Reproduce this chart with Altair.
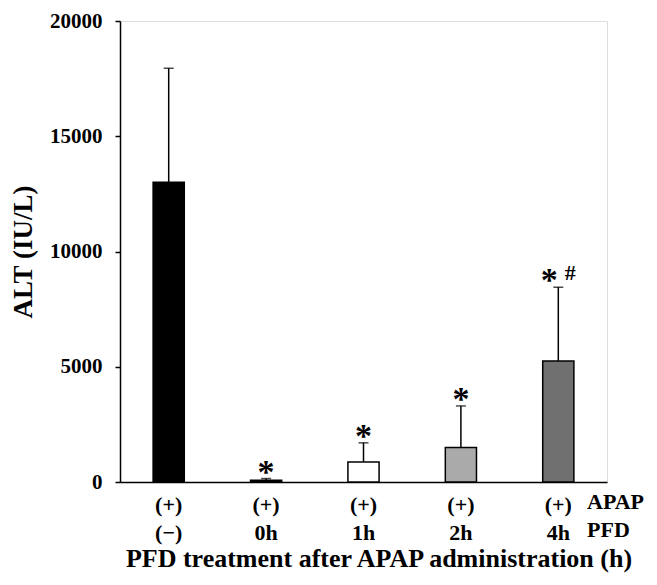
import altair as alt
import pandas as pd

groups = ["(−)", "0h", "1h", "2h", "4h"]
means = [13000, 80, 870, 1500, 5250]
sds = [4950, 70, 830, 1800, 3200]
stars = ["", "*", "*", "*", "*"]
hashes = ["", "", "", "", "#"]
fills = ["#000000", "#000000", "#ffffff", "#aaaaaa", "#707070"]

df = pd.DataFrame({
    "group": groups,
    "mean": means,
    "top": [m + s for m, s in zip(means, sds)],
    "star": stars,
    "hash": hashes,
    "fill": fills,
})

FONT = "Liberation Serif"

x = alt.X("group:N", sort=groups,
          scale=alt.Scale(paddingInner=0.68, paddingOuter=0.34),
          axis=alt.Axis(title=None, ticks=False, domainColor="black", domainWidth=1.5,
                        labelExpr="['(+)', datum.value]", labelAngle=0,
                        labelFont=FONT, labelFontWeight="bold", labelFontSize=22,
                        labelColor="black", labelLineHeight=28, labelPadding=12))
y = alt.Y("mean:Q", scale=alt.Scale(domain=[0, 20000], nice=False),
          axis=alt.Axis(title="ALT (IU/L)", values=[0, 5000, 10000, 15000, 20000],
                        format="d", grid=False, tickSize=5, tickColor="black",
                        tickWidth=1.5, domainColor="black", domainWidth=1.5,
                        labelFont=FONT, labelFontWeight="bold", labelFontSize=21,
                        labelColor="black", labelPadding=13,
                        titleFont=FONT, titleFontWeight="bold", titleFontSize=27,
                        titleColor="black", titlePadding=12))

base = alt.Chart(df)

err = base.mark_rule(color="black", strokeWidth=1.5).encode(
    x=x, y=alt.Y("mean:Q"), y2="top:Q")
cap = base.mark_tick(color="black", orient="horizontal", size=10, thickness=1.5).encode(
    x=x, y=alt.Y("top:Q"))
bars = base.mark_bar(stroke="black", strokeWidth=1.5).encode(
    x=x, y=y, fill=alt.Fill("fill:N", scale=None))

star_plain = base.transform_filter("datum.hash == ''").mark_text(
    font=FONT, fontSize=34, fontWeight="bold", baseline="alphabetic", dy=4, color="black"
).encode(x=x, y=alt.Y("top:Q"), text="star:N")
star_hash = base.transform_filter("datum.hash != ''").mark_text(
    font=FONT, fontSize=34, fontWeight="bold", baseline="alphabetic", dy=4, dx=-9, color="black"
).encode(x=x, y=alt.Y("top:Q"), text="star:N")
hash_txt = base.transform_filter("datum.hash != ''").mark_text(
    font=FONT, fontSize=22, fontWeight="bold", baseline="alphabetic", dy=-7, dx=12, color="black"
).encode(x=x, y=alt.Y("top:Q"), text="hash:N")

row_names = pd.DataFrame({"name": ["APAP", "PFD"], "ypix": [481, 509]})
side = alt.Chart(row_names).mark_text(
    font=FONT, fontSize=22, fontWeight="bold", align="left", baseline="middle",
    color="black", clip=False
).encode(x=alt.value(467), y=alt.Y("ypix:Q", scale=None), text="name:N")

xtitle = alt.Chart(pd.DataFrame({"t": ["PFD treatment after APAP administration (h)"]})).mark_text(
    font=FONT, fontSize=26, fontWeight="bold", align="center", baseline="alphabetic",
    color="black", clip=False
).encode(x=alt.value(259), y=alt.value(546), text="t:N")

chart = alt.layer(err, cap, bars, star_plain, star_hash, hash_txt, side, xtitle).properties(
    width=487, height=461,
    autosize=alt.AutoSizeParams(type="none"),
    padding={"left": 112, "top": 13, "right": 42, "bottom": 91},
).configure_view(stroke=None).configure(background="white")

chart.save("out.html", embed_options={"renderer": "svg", "actions": False})
